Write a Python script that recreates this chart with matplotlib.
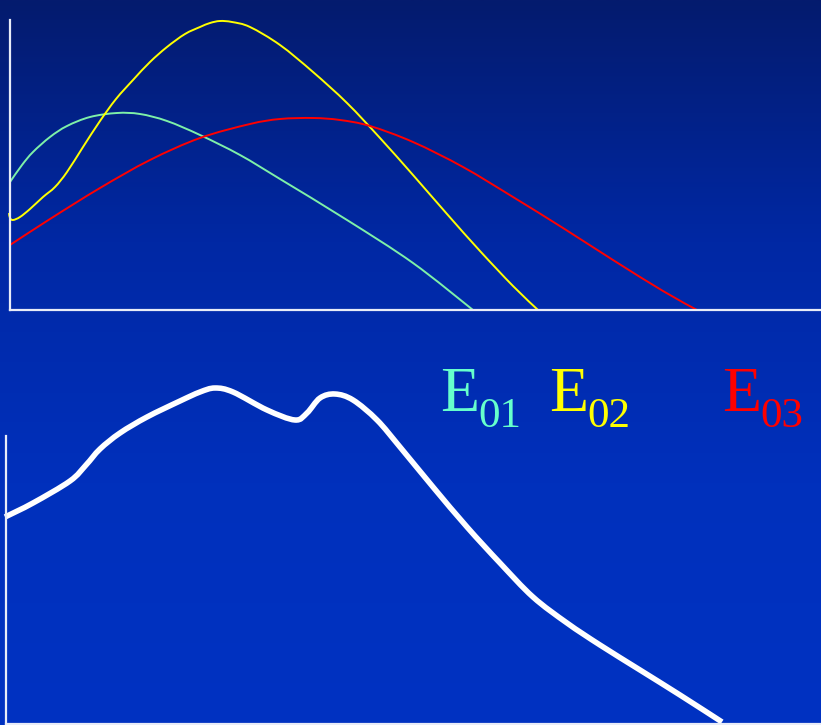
import numpy as np
import matplotlib.pyplot as plt
from matplotlib.colors import LinearSegmentedColormap
from matplotlib.path import Path
from matplotlib.patches import PathPatch

# top panel: three component curves (x, height above baseline)
e01_x = [0, 12, 23, 40, 57, 80, 107, 130, 157, 190, 230, 270, 337, 403, 463]
e01_y = [128, 145, 158, 173, 184, 193, 197, 196, 189, 175, 155, 131, 90, 47, 0]

e02_x = [-1, 0, 3, 10, 20, 33, 45, 57, 73, 90, 106, 123, 140, 157, 175, 190, 200, 210, 222, 240, 270, 303, 337, 370, 403, 437, 470, 503, 528]
e02_y = [97, 92, 90, 93, 101, 113, 123, 138, 163, 189, 211, 230, 248, 263, 276, 283, 287, 289, 288, 283, 265, 238, 207, 172, 135, 96, 59, 24, 0]

e03_x = [0, 40, 90, 140, 190, 240, 270, 303, 330, 360, 403, 453, 503, 553, 603, 653, 687]
e03_y = [65, 91, 122, 150, 172, 186, 191, 192, 190, 184, 168, 143, 113, 82, 50, 19, 0]

# bottom panel: measured sum spectrum
sum_x = [-1, 27, 64, 80, 94, 114, 141, 174, 194, 209, 227, 261, 289, 301, 314, 329, 347, 371, 394, 427, 461, 494, 527, 561, 594, 634, 674, 716]
sum_y = [207, 221, 243, 259, 275, 291, 307, 323, 332, 336, 332, 314, 304, 311, 326, 330, 324, 304, 277, 237, 197, 161, 127, 101, 79, 54, 29, 2]

labels = ['E', 'E', 'E']
subs = ['01', '02', '03']
label_colors = ['#66ffcc', '#ffff00', '#ff0000']
label_x = [440, 549, 722]

W, H = 821, 725
fig = plt.figure(figsize=(W / 100, H / 100), dpi=100)

# gradient background
bg = fig.add_axes([0, 0, 1, 1])
cmap = LinearSegmentedColormap.from_list('bg', ['#041b6e', '#0028a4', '#0030bc', '#0032c2'])
grad = np.linspace(0, 1, 256).reshape(-1, 1)
bg.imshow(grad, aspect='auto', cmap=cmap, extent=[0, 1, 0, 1], origin='upper')
bg.set_axis_off()


def px_axes(left, top, right, bottom):
    return fig.add_axes([left / W, 1 - bottom / H, (right - left) / W, (bottom - top) / H])


def smooth_line(ax, x, y, **kw):
    # catmull-rom through the points, drawn as bezier segments
    p = np.column_stack([x, y]).astype(float)
    verts = [p[0]]
    codes = [Path.MOVETO]
    for i in range(len(p) - 1):
        p0 = p[i - 1] if i > 0 else p[i]
        p3 = p[i + 2] if i + 2 < len(p) else p[i + 1]
        c1 = p[i] + (p[i + 1] - p0) / 6
        c2 = p[i + 1] - (p3 - p[i]) / 6
        verts += [c1, c2, p[i + 1]]
        codes += [Path.CURVE4] * 3
    ax.add_patch(PathPatch(Path(verts, codes), fill=False, clip_on=False,
                           joinstyle='round', capstyle='butt', **kw))


top = px_axes(10, 20, 821, 310)
top.set_xlim(0, 811)
top.set_ylim(0, 290)
top.patch.set_alpha(0)
smooth_line(top, e01_x, e01_y, edgecolor='#7ef0a8', lw=1.4)
smooth_line(top, e02_x, e02_y, edgecolor='#ffff00', lw=1.4)
smooth_line(top, e03_x, e03_y, edgecolor='#ff0000', lw=1.4)

bot = px_axes(6, 436, 821, 724)
bot.set_xlim(0, 815)
bot.set_ylim(0, 288)
bot.patch.set_alpha(0)
smooth_line(bot, sum_x, sum_y, edgecolor='white', lw=4)

for ax in (top, bot):
    for s in ('top', 'right'):
        ax.spines[s].set_visible(False)
    for s in ('left', 'bottom'):
        ax.spines[s].set_color('#e8ecf8')
        ax.spines[s].set_linewidth(1.6)
    ax.set_xticks([])
    ax.set_yticks([])

for lab, sub, c, x in zip(labels, subs, label_colors, label_x):
    fig.text(x / W, 1 - 411 / H, lab, color=c, fontsize=46, family='Liberation Serif', va='baseline')
    fig.text((x + 38) / W, 1 - 427 / H, sub, color=c, fontsize=31, family='Liberation Serif', va='baseline')

fig.savefig('out.png', dpi=100)
